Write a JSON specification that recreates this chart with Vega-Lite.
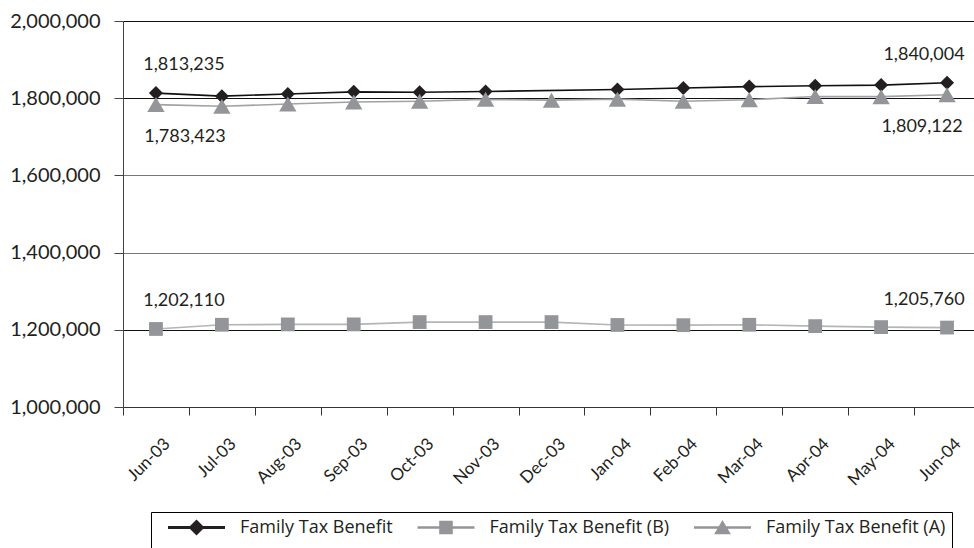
{
  "$schema": "https://vega.github.io/schema/vega-lite/v6.json",
  "width": 851,
  "height": 386,
  "autosize": {"type": "none"},
  "padding": {"left": 123, "top": 21, "right": 0, "bottom": 141},
  "background": "white",
  "config": {"view": {"stroke": null}, "font": "Lato"},
  "data": {
    "values": [
      {"month": "Jun-03", "series": "Family Tax Benefit", "value": 1813235},
      {"month": "Jul-03", "series": "Family Tax Benefit", "value": 1805300},
      {"month": "Aug-03", "series": "Family Tax Benefit", "value": 1810800},
      {"month": "Sep-03", "series": "Family Tax Benefit", "value": 1816500},
      {"month": "Oct-03", "series": "Family Tax Benefit", "value": 1815500},
      {"month": "Nov-03", "series": "Family Tax Benefit", "value": 1817500},
      {"month": "Jan-04", "series": "Family Tax Benefit", "value": 1822500},
      {"month": "Feb-04", "series": "Family Tax Benefit", "value": 1826600},
      {"month": "Mar-04", "series": "Family Tax Benefit", "value": 1830000},
      {"month": "Apr-04", "series": "Family Tax Benefit", "value": 1832100},
      {"month": "May-04", "series": "Family Tax Benefit", "value": 1834000},
      {"month": "Jun-04", "series": "Family Tax Benefit", "value": 1840004},
      {"month": "Jun-03", "series": "Family Tax Benefit (B)", "value": 1202110},
      {"month": "Jul-03", "series": "Family Tax Benefit (B)", "value": 1213000},
      {"month": "Aug-03", "series": "Family Tax Benefit (B)", "value": 1214000},
      {"month": "Sep-03", "series": "Family Tax Benefit (B)", "value": 1214000},
      {"month": "Oct-03", "series": "Family Tax Benefit (B)", "value": 1220000},
      {"month": "Nov-03", "series": "Family Tax Benefit (B)", "value": 1220000},
      {"month": "Dec-03", "series": "Family Tax Benefit (B)", "value": 1220000},
      {"month": "Jan-04", "series": "Family Tax Benefit (B)", "value": 1212500},
      {"month": "Feb-04", "series": "Family Tax Benefit (B)", "value": 1212000},
      {"month": "Mar-04", "series": "Family Tax Benefit (B)", "value": 1213000},
      {"month": "Apr-04", "series": "Family Tax Benefit (B)", "value": 1209500},
      {"month": "May-04", "series": "Family Tax Benefit (B)", "value": 1207000},
      {"month": "Jun-04", "series": "Family Tax Benefit (B)", "value": 1205760},
      {"month": "Jun-03", "series": "Family Tax Benefit (A)", "value": 1783423},
      {"month": "Jul-03", "series": "Family Tax Benefit (A)", "value": 1779000},
      {"month": "Aug-03", "series": "Family Tax Benefit (A)", "value": 1785000},
      {"month": "Sep-03", "series": "Family Tax Benefit (A)", "value": 1790000},
      {"month": "Oct-03", "series": "Family Tax Benefit (A)", "value": 1792000},
      {"month": "Nov-03", "series": "Family Tax Benefit (A)", "value": 1797000},
      {"month": "Dec-03", "series": "Family Tax Benefit (A)", "value": 1795000},
      {"month": "Jan-04", "series": "Family Tax Benefit (A)", "value": 1797500},
      {"month": "Feb-04", "series": "Family Tax Benefit (A)", "value": 1792000},
      {"month": "Mar-04", "series": "Family Tax Benefit (A)", "value": 1796000},
      {"month": "Apr-04", "series": "Family Tax Benefit (A)", "value": 1804500},
      {"month": "May-04", "series": "Family Tax Benefit (A)", "value": 1804000},
      {"month": "Jun-04", "series": "Family Tax Benefit (A)", "value": 1809122}
    ]
  },
  "encoding": {
    "x": {
      "field": "month",
      "type": "ordinal",
      "scale": {
        "type": "band",
        "domain": ["Jun-03", "Jul-03", "Aug-03", "Sep-03", "Oct-03", "Nov-03", "Dec-03", "Jan-04", "Feb-04", "Mar-04", "Apr-04", "May-04", "Jun-04"],
        "range": [0, 857],
        "paddingInner": 0,
        "paddingOuter": 0
      },
      "axis": {
        "title": null,
        "labelAngle": -45,
        "labelAlign": "right",
        "labelBaseline": "middle",
        "labelFont": "Lato",
        "labelFontSize": 17,
        "labelColor": "#231f20",
        "labelPadding": 26,
        "labelOffset": 11,
        "tickBand": "extent",
        "tickSize": 8,
        "tickColor": "#333333",
        "domainColor": "#333333",
        "grid": false
      }
    },
    "y": {
      "field": "value",
      "type": "quantitative",
      "scale": {"domain": [1000000, 2000000], "nice": false, "zero": false},
      "axis": {
        "title": null,
        "values": [1000000, 1200000, 1400000, 1600000, 1800000, 2000000],
        "format": ",d",
        "labelFont": "Lato",
        "labelFontSize": 20,
        "labelColor": "#231f20",
        "labelPadding": 14,
        "tickSize": 9,
        "tickColor": "#444444",
        "domainColor": "#444444",
        "grid": true,
        "gridColor": {
          "condition": {"test": "datum.value === 1800000 || datum.value === 1200000 || datum.value === 2000000", "value": "#111111"},
          "value": "#777777"
        },
        "gridOpacity": 1
      }
    }
  },
  "layer": [
    {
      "mark": {"type": "line", "strokeWidth": 1.6},
      "encoding": {
        "stroke": {
          "field": "series",
          "type": "nominal",
          "scale": {
            "domain": ["Family Tax Benefit (A)", "Family Tax Benefit", "Family Tax Benefit (B)"],
            "range": ["#a0a2a5", "#111111", "#b3b5b8"]
          },
          "legend": null
        },
        "order": {"value": null}
      }
    },
    {
      "transform": [{"filter": "datum.series === 'Family Tax Benefit'"}],
      "mark": {"type": "point", "shape": "diamond", "filled": true, "opacity": 1, "size": 196, "color": "#231f20"}
    },
    {
      "transform": [{"filter": "datum.series === 'Family Tax Benefit (B)'"}],
      "mark": {"type": "point", "shape": "square", "filled": true, "opacity": 1, "size": 190, "color": "#939598"}
    },
    {
      "transform": [{"filter": "datum.series === 'Family Tax Benefit (A)'"}],
      "mark": {"type": "point", "shape": "triangle-up", "filled": true, "opacity": 1, "size": 300, "color": "#939598"}
    },
    {
      "transform": [{"filter": "false"}],
      "mark": {"type": "point", "filled": true, "opacity": 1},
      "encoding": {
        "color": {
          "field": "series",
          "type": "nominal",
          "scale": {
            "domain": ["Family Tax Benefit", "Family Tax Benefit (B)", "Family Tax Benefit (A)"],
            "range": ["#231f20", "#939598", "#939598"]
          },
          "legend": {
            "title": " ",
            "titleOrient": "bottom",
            "titleFontSize": 14,
            "titlePadding": 6,
            "orient": "none",
            "legendX": 28,
            "legendY": 491,
            "direction": "horizontal",
            "strokeColor": "#000000",
            "fillColor": "#ffffff",
            "padding": 6.5,
            "symbolSize": 256,
            "symbolStrokeWidth": 0,
            "symbolOpacity": 1,
            "symbolOffset": 30,
            "labelOffset": 34.5,
            "columnPadding": 13.5,
            "labelFont": "Open Sans",
            "labelFontSize": 18,
            "labelLimit": 0,
            "labelColor": "#231f20"
          }
        },
        "shape": {
          "field": "series",
          "type": "nominal",
          "scale": {
            "domain": ["Family Tax Benefit", "Family Tax Benefit (B)", "Family Tax Benefit (A)"],
            "range": [
              "M-3.56,-0.19L3.56,-0.19L3.56,0.19L-3.56,0.19Z M0,-1L1,0L0,1L-1,0Z",
              "M-3.56,-0.17L3.56,-0.17L3.56,0.17L-3.56,0.17Z M-0.85,-0.85L0.85,-0.85L0.85,0.85L-0.85,0.85Z",
              "M-3.56,-0.17L3.56,-0.17L3.56,0.17L-3.56,0.17Z M0,-0.95L1.05,0.85L-1.05,0.85Z"
            ]
          }
        }
      }
    },
    {
      "transform": [{"filter": "datum.month === 'Jun-03' && datum.series !== 'Family Tax Benefit (A)'"}],
      "mark": {"type": "text", "font": "Lato", "fontSize": 18, "color": "#231f20", "dx": 28, "dy": -28},
      "encoding": {"text": {"field": "value", "type": "quantitative", "format": ",d"}}
    },
    {
      "transform": [{"filter": "datum.month === 'Jun-03' && datum.series === 'Family Tax Benefit (A)'"}],
      "mark": {"type": "text", "font": "Lato", "fontSize": 18, "color": "#231f20", "dx": 29, "dy": 32},
      "encoding": {"text": {"field": "value", "type": "quantitative", "format": ",d"}}
    },
    {
      "transform": [{"filter": "datum.month === 'Jun-04' && datum.series !== 'Family Tax Benefit (A)'"}],
      "mark": {"type": "text", "font": "Lato", "fontSize": 18, "color": "#231f20", "dx": -23, "dy": -28},
      "encoding": {"text": {"field": "value", "type": "quantitative", "format": ",d"}}
    },
    {
      "transform": [{"filter": "datum.month === 'Jun-04' && datum.series === 'Family Tax Benefit (A)'"}],
      "mark": {"type": "text", "font": "Lato", "fontSize": 18, "color": "#231f20", "dx": -25, "dy": 32},
      "encoding": {"text": {"field": "value", "type": "quantitative", "format": ",d"}}
    }
  ]
}
